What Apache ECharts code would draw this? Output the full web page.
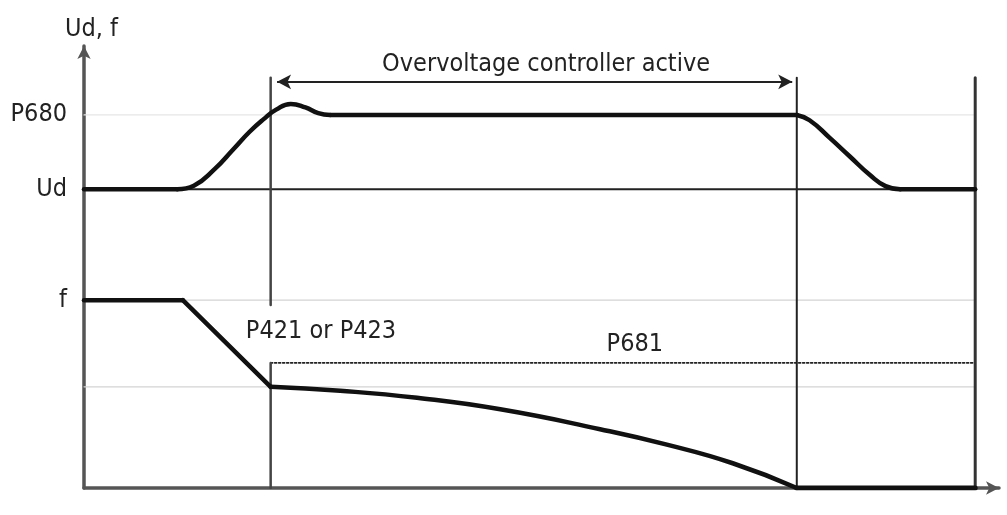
<!DOCTYPE html>
<html>
<head>
<meta charset="utf-8">
<script src="https://cdn.jsdelivr.net/npm/echarts@6/dist/echarts.min.js"></script>
<style>html,body{margin:0;padding:0;background:#fff}#c{width:1007px;height:515px}</style>
</head>
<body>
<div id="c"></div>
<script>
// ---- data (time units on x, level units on y) ----
const levelP680 = 84.4;
const levelUd = 67.6;
const levelF = 42.5;
const levelFLow = 22.9;
const levelP681 = 28.3;
const tStart = 20.4;   // controller becomes active
const tStop = 77.9;    // controller inactive
const tEnd = 97.4;
const lineTop = 92.8;
const arrowLevel = 91.9;
const arrowFrom = 21.1, arrowTo = 77.4;

const yTickValues = [84.4, 67.6, 42.5];
const yTickLabels = ['P680', 'Ud', 'f'];

const udFlatStart = [[0,67.6],[10.2,67.6]];
const udRise = [[10.2,67.6],[12.0,68.4],[14.3,72.2],[16.3,76.6],[18.1,80.6],[19.6,83.4],[21.0,85.6],[22.6,86.9],[24.2,86.1],[25.6,84.8],[26.9,84.4]];
const udHold = [[26.9,84.4],[77.9,84.4]];
const udFall = [[77.9,84.4],[79.3,83.2],[81.5,79.2],[83.7,75.0],[85.9,70.8],[87.6,68.3],[89.2,67.6]];
const udFlatEnd = [[89.2,67.6],[97.4,67.6]];

const fHold = [[0,42.5],[10.8,42.5]];
const fRamp = [[10.8,42.5],[20.4,22.9]];
const fDecel = [[20.4,22.9],[28.0,22.0],[36.4,20.4],[45.5,17.8],[56.4,13.3],[63.7,9.8],[70.9,5.6],[77.9,0]];
const fStop = [[77.9,0],[97.4,0]];

const textLabels = [
  {name: 'Overvoltage controller active', value: [50.5, 95.9]},
  {name: 'P421 or P423', value: [25.9, 35.3]},
  {name: 'P681', value: [60.2, 32.4]}
];

const FONT = '"DejaVu Sans Condensed", "DejaVu Sans", sans-serif';
const TEXT = '#222';

function seg(data, color, width, type, z, smooth) {
  return {
    type: 'line', data: data, symbol: 'none', silent: true, z: z || 2, smooth: smooth || false,
    lineStyle: {color: color, width: width, type: type || 'solid', cap: 'round', join: 'round'}, animation: false
  };
}

const CURVE = '#111';
const series = [
  // horizontal guide lines
  seg([[0, levelP680], [tEnd, levelP680]], '#e6e6e6', 1.2),
  seg([[0, levelF], [tEnd, levelF]], '#d4d4d4', 1.2),
  seg([[0, levelFLow], [tEnd, levelFLow]], '#d4d4d4', 1.2),
  seg([[0, levelUd], [tEnd, levelUd]], '#222', 2),
  seg([[tStart, levelP681], [tEnd, levelP681]], '#222', 1.6, [2, 2]),
  // vertical lines
  seg([[tStart, lineTop], [tStart, 41.4]], '#444', 2.5),
  seg([[tStart, levelP681], [tStart, 0]], '#444', 2.5),
  seg([[tStop, lineTop], [tStop, 0]], '#222', 2),
  seg([[tEnd, lineTop], [tEnd, 0]], '#333', 3),
  // Ud curve
  seg(udFlatStart, CURVE, 4.5, 'solid', 5),
  seg(udRise, CURVE, 4.5, 'solid', 5, 0.5),
  seg(udHold, CURVE, 4.5, 'solid', 5),
  seg(udFall, CURVE, 4.5, 'solid', 5, 0.5),
  seg(udFlatEnd, CURVE, 4.5, 'solid', 5),
  // f curve
  seg(fHold, CURVE, 4.5, 'solid', 5),
  seg(fRamp, CURVE, 4.5, 'solid', 5),
  seg(fDecel, CURVE, 4.5, 'solid', 5, 0.5),
  seg(fStop, CURVE, 5, 'solid', 5),
  // double arrow
  {type: 'line', data: [], symbol: 'none', animation: false,
   markLine: {silent: true, symbol: ['arrow', 'arrow'], symbolSize: [11, 14], animation: false,
     lineStyle: {color: '#222', width: 2, type: 'solid'}, label: {show: false},
     data: [[{coord: [arrowFrom, arrowLevel]}, {coord: [arrowTo, arrowLevel]}]]}},
  // texts
  {type: 'scatter', data: textLabels, symbol: 'circle', symbolSize: 1, z: 10, animation: false, silent: true,
   itemStyle: {color: 'rgba(0,0,0,0)'},
   label: {show: true, position: 'inside', align: 'center', verticalAlign: 'middle',
     formatter: p => p.name, color: TEXT, textBorderWidth: 0, textBorderColor: 'transparent', opacity: 1,
     fontFamily: FONT, fontSize: 25}}
];

const chart = echarts.init(document.getElementById('c'), null, {renderer: 'canvas'});
chart.setOption({
  animation: false,
  grid: {left: 84, right: 8, top: 46, bottom: 27, containLabel: false},
  xAxis: {type: 'value', min: 0, max: 100,
    axisLine: {show: true, symbol: ['none', 'arrow'], symbolSize: [10, 13], lineStyle: {color: '#555', width: 3.5}},
    axisTick: {show: false}, axisLabel: {show: false}, splitLine: {show: false}},
  yAxis: {type: 'value', min: 0, max: 100, name: 'Ud, f', nameLocation: 'end', nameGap: 4,
    nameTextStyle: {fontFamily: FONT, fontSize: 25, color: TEXT, padding: [0, 0, 0, 15], verticalAlign: 'bottom'},
    axisLine: {show: true, symbol: ['none', 'arrow'], symbolSize: [10, 13], lineStyle: {color: '#555', width: 3.5}},
    axisTick: {show: false},
    axisLabel: {show: true, customValues: yTickValues, margin: 17, color: TEXT, fontFamily: FONT, fontSize: 25,
      formatter: v => { const i = yTickValues.indexOf(v); return i >= 0 ? yTickLabels[i] : ''; }},
    splitLine: {show: false}},
  series: series
});
</script>
</body>
</html>
